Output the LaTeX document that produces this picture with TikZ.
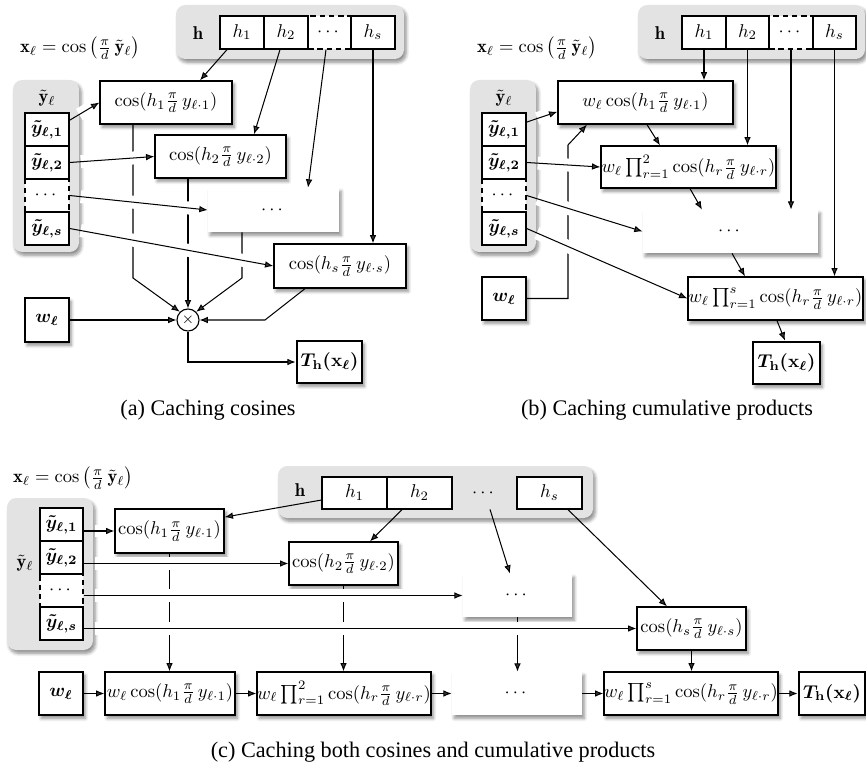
\documentclass[tikz,border=0pt]{standalone}
\usepackage{amsmath}
\usepackage{amsfonts}
\usepackage{fontspec}
\newfontfamily\capfont{Liberation Serif}
\usetikzlibrary{arrows.meta,shadows.blur}

\newcommand{\yt}[1]{\boldsymbol{\tilde y_{\ell,#1}}}
\newcommand{\cosf}[2]{\cos(#1\frac{\pi}{d}\,y_{\ell\cdot#2})}
\newcommand{\wprod}[1]{w_\ell\prod_{r=1}^{#1}\cos(h_r\frac{\pi}{d}\,y_{\ell\cdot r})}

\tikzset{
  wh/.style 2 args={minimum width=#1*0.54pt, minimum height=#2*0.54pt},
  shad/.style={blur shadow={shadow xshift=1.2pt, shadow yshift=-1.8pt,
    shadow blur steps=6, shadow opacity=45}},
  cell/.style={draw, fill=white, line width=0.7pt},
  dcell/.style={cell, dash pattern=on 3pt off 2pt},
  box/.style={cell, shad},
  blank/.style={fill=white, shad},
  res/.style={box, line width=1.5pt},
  tray/.style={fill=black!11, rounded corners=5pt, shad},
  mul/.style={circle, draw, fill=white, line width=0.6pt,
    minimum size=11.9pt, font=\footnotesize},
  wire/.style={->, line width=0.55pt},
  halo/.style={preaction={draw=white, line width=7pt, -,
    shorten <=6pt, shorten >=6pt}},
  capt/.style={font=\capfont\fontsize{12}{14}\selectfont},
}

\begin{document}
\begin{tikzpicture}[x=0.54pt, y=-0.54pt,
    >={Latex[length=4.5pt,width=3.6pt]},
    every node/.style={inner sep=0pt}]
  \useasboundingbox (0,0) rectangle (866,770);

  % (a) caching cosines
  \path[tray] (176,5) rectangle (404,59);
  \path[tray] (13,80) rectangle (79,252);
  \node (hA) at (198,33) {$\mathbf{h}$};
  \node[dcell, wh={43}{33}] (hAd) at (329.5,32.5) {$\cdots$};
  \node[cell, wh={44}{33}] (hA1) at (242,32.5) {$\mathstrut h_1$};
  \node[cell, wh={44}{33}] (hA2) at (286,32.5) {$\mathstrut h_2$};
  \node[cell, wh={44}{33}] (hAs) at (373,32.5) {$\mathstrut h_s$};
  \node (fA) at (80,48) {$\mathbf{x}_\ell = \cos\left(\frac{\pi}{d}\,\tilde{\mathbf{y}}_\ell\right)$};
  \node (yA) at (47,98) {$\tilde{\mathbf{y}}_\ell$};
  \node[dcell, wh={44}{33}] (yAd) at (47,195.5) {$\cdots$};
  \node[cell, wh={44}{33}] (yA1) at (47,129.5) {$\yt{1}$};
  \node[cell, wh={44}{33}] (yA2) at (47,162.5) {$\yt{2}$};
  \node[cell, wh={44}{33}] (yAs) at (47,228.5) {$\yt{s}$};
  \node[box, wh={132}{43}] (cA1) at (166,102.5) {$\cosf{h_1}{1}$};
  \node[box, wh={131}{43}] (cA2) at (220.5,156.5) {$\cosf{h_2}{2}$};
  \node[blank, wh={131}{44}] (cAd) at (273.5,210) {$\cdots$};
  \node[box, wh={132}{44}] (cAs) at (340,266) {$\cosf{h_s}{s}$};
  \node[mul] (mA) at (188,320) {$\times$};
  \node[box, wh={44}{44}] (wA) at (47,320) {$\boldsymbol{w_\ell}$};
  \node[res, wh={65}{42}] (TA) at (329.5,362) {$\boldsymbol{T_{\mathbf h}(\mathbf x_\ell)}$};
  \node[capt] (capA) at (208,410) {(a) Caching cosines};

  \draw[wire] (hA1.south -| 227,0) -- (cA1.north -| 200,0);
  \draw[wire] (hA2.south -| 280,0) -- (cA2.north -| 254,0);
  \draw[wire] (hAd.south -| 326,0) -- (cAd.north -| 308,0);
  \draw[wire] (hAs.south) -- (hAs.south |- cAs.north);
  \draw[wire] (cA1.south -| 133,0) -- (133,278) -- (mA.135);
  \draw[wire] (cA2.south -| 188,0) -- (mA.north);
  \draw[wire] (cAd.south -| 242,0) -- (242,278) -- (mA.45);
  \draw[wire] (cAs.south -| 305,0) -- (265,320) -- (mA.east);
  \draw[wire] (wA) -- (mA);
  \draw[wire] (mA.south) |- (TA.west);
  \draw[wire, halo] ([yshift=5pt]yA1.east) -- (cA1.west);
  \draw[wire, halo] (yA2.east) -- (cA2.west);
  \draw[wire, halo] (yAd.east) -- (cAd.west);
  \draw[wire, halo] (yAs.east) -- (cAs.west);

  % (b) caching cumulative products
  \path[tray] (638,5) rectangle (865,59);
  \path[tray] (470,80) rectangle (536,252);
  \node (hB) at (660,33) {$\mathbf{h}$};
  \node[dcell, wh={44}{33}] (hBd) at (791,32.5) {$\cdots$};
  \node[cell, wh={44}{33}] (hB1) at (704,32.5) {$\mathstrut h_1$};
  \node[cell, wh={43}{33}] (hB2) at (747.5,32.5) {$\mathstrut h_2$};
  \node[cell, wh={43}{33}] (hBs) at (834.5,32.5) {$\mathstrut h_s$};
  \node (fB) at (537,48) {$\mathbf{x}_\ell = \cos\left(\frac{\pi}{d}\,\tilde{\mathbf{y}}_\ell\right)$};
  \node (yB) at (504,98) {$\tilde{\mathbf{y}}_\ell$};
  \node[dcell, wh={44}{33}] (yBd) at (504,195.5) {$\cdots$};
  \node[cell, wh={44}{33}] (yB1) at (504,129.5) {$\yt{1}$};
  \node[cell, wh={44}{33}] (yB2) at (504,162.5) {$\yt{2}$};
  \node[cell, wh={44}{33}] (yBs) at (504,228.5) {$\yt{s}$};
  \node[box, wh={175}{43}] (bB1) at (645.5,102.5) {$w_\ell\cosf{h_1}{1}$};
  \node[box, wh={175}{42}] (bB2) at (688.5,167) {$\wprod{2}$};
  \node[blank, wh={175}{43}] (bBd) at (730.5,231.5) {$\cdots$};
  \node[box, wh={175}{43}] (bBs) at (775.5,298.5) {$\wprod{s}$};
  \node[box, wh={44}{43}] (wB) at (504,298.5) {$\boldsymbol{w_\ell}$};
  \node[res, wh={67}{42}] (TB) at (786.5,363) {$\boldsymbol{T_{\mathbf h}(\mathbf x_\ell)}$};
  \node[capt] (capB) at (667,410) {(b) Caching cumulative products};

  \draw[wire] (hB1.south) -- (hB1.south |- bB1.north);
  \draw[wire] (hB2.south) -- (hB2.south |- bB2.north);
  \draw[wire] (hBd.south) -- (hBd.south |- bBd.north);
  \draw[wire] (hBs.south) -- (hBs.south |- bBs.north);
  \draw[wire] (wB.east) -| (568,145) -- (bB1.south -| 587,0);
  \draw[wire] (bB1.south -| 647,0) -- (bB2.north -| 660,0);
  \draw[wire] (bB2.south -| 690,0) -- (bBd.north -| 702,0);
  \draw[wire] (bBd.south -| 732,0) -- (bBs.north -| 745,0);
  \draw[wire] (bBs.south -| 777,0) -- (TB.north -| 785,0);
  \draw[wire, halo] ([yshift=4pt]yB1.east) -- ([yshift=-5pt]bB1.west);
  \draw[wire, halo] (yB2.east) -- (bB2.west);
  \draw[wire, halo] (yBd.east) -- (bBd.west);
  \draw[wire, halo] (yBs.east) -- (bBs.west);

  % (c) caching both
  \path[tray] (278,466) rectangle (593,518);
  \path[tray] (7,498) rectangle (93,650);
  \node (hC) at (300,490) {$\mathbf{h}$};
  \node[wh={65}{32}] (hCd) at (484.5,493) {$\cdots$};
  \node[cell, wh={65}{32}] (hC1) at (354.5,493) {$\mathstrut h_1$};
  \node[cell, wh={65}{32}] (hC2) at (419.5,493) {$\mathstrut h_2$};
  \node[cell, wh={65}{32}] (hCs) at (549.5,493) {$\mathstrut h_s$};
  \node (fC) at (73,478) {$\mathbf{x}_\ell = \cos\left(\frac{\pi}{d}\,\tilde{\mathbf{y}}_\ell\right)$};
  \node (yC) at (25,563) {$\tilde{\mathbf{y}}_\ell$};
  \node[dcell, wh={43}{33}] (yCd) at (61.5,590.5) {$\cdots$};
  \node[cell, wh={43}{33}] (yC1) at (61.5,524.5) {$\yt{1}$};
  \node[cell, wh={43}{33}] (yC2) at (61.5,557.5) {$\yt{2}$};
  \node[cell, wh={43}{33}] (yCs) at (61.5,623.5) {$\yt{s}$};
  \node[box, wh={109}{44}] (cC1) at (169.5,531) {$\cosf{h_1}{1}$};
  \node[box, wh={109}{43}] (cC2) at (343.5,563.5) {$\cosf{h_2}{2}$};
  \node[blank, wh={109}{43}] (cCd) at (517.5,595.5) {$\cdots$};
  \node[box, wh={109}{43}] (cCs) at (691.5,628.5) {$\cosf{h_s}{s}$};
  \node[box, wh={44}{43}] (wC) at (61,693.5) {$\boldsymbol{w_\ell}$};
  \node[box, wh={130}{43}] (bC1) at (170,693.5) {$w_\ell\cosf{h_1}{1}$};
  \node[box, wh={174}{43}] (bC2) at (344,693.5) {$\wprod{2}$};
  \node[blank, wh={130}{43}] (bCd) at (517,693.5) {$\cdots$};
  \node[box, wh={174}{43}] (bCs) at (691,693.5) {$\wprod{s}$};
  \node[res, wh={66}{43}] (TC) at (832,693.5) {$\boldsymbol{T_{\mathbf h}(\mathbf x_\ell)}$};
  \node[capt] (capC) at (433,752) {(c) Caching both cosines and cumulative products};

  \draw[wire] ([yshift=-3.8pt]hC1.west) -- ([yshift=7.5pt]cC1.east);
  \draw[wire] (hC2.south -| 402,0) -- (cC2.north -| 370,0);
  \draw[wire] (hCd.south -| 490,0) -- (cCd.north -| 510,0);
  \draw[wire] (hCs.south -| 568,0) -- (cCs.north -| 667,0);
  \draw[wire] (cC1.south) -- (cC1.south |- bC1.north);
  \draw[wire] (cC2.south) -- (cC2.south |- bC2.north);
  \draw[wire] (cCd.south) -- (cCd.south |- bCd.north);
  \draw[wire] (cCs.south) -- (cCs.south |- bCs.north);
  \draw[wire] (wC) -- (bC1);
  \draw[wire] (bC1) -- (bC2);
  \draw[wire] (bC2) -- (bCd);
  \draw[wire] (bCd) -- (bCs);
  \draw[wire] (bCs) -- (TC);
  \draw[wire, halo] (cC1.west -| yC1.east) -- (cC1.west);
  \draw[wire, halo] (cC2.west -| yC2.east) -- (cC2.west);
  \draw[wire, halo] (cCd.west -| yCd.east) -- (cCd.west);
  \draw[wire, halo] (cCs.west -| yCs.east) -- (cCs.west);
\end{tikzpicture}
\end{document}
